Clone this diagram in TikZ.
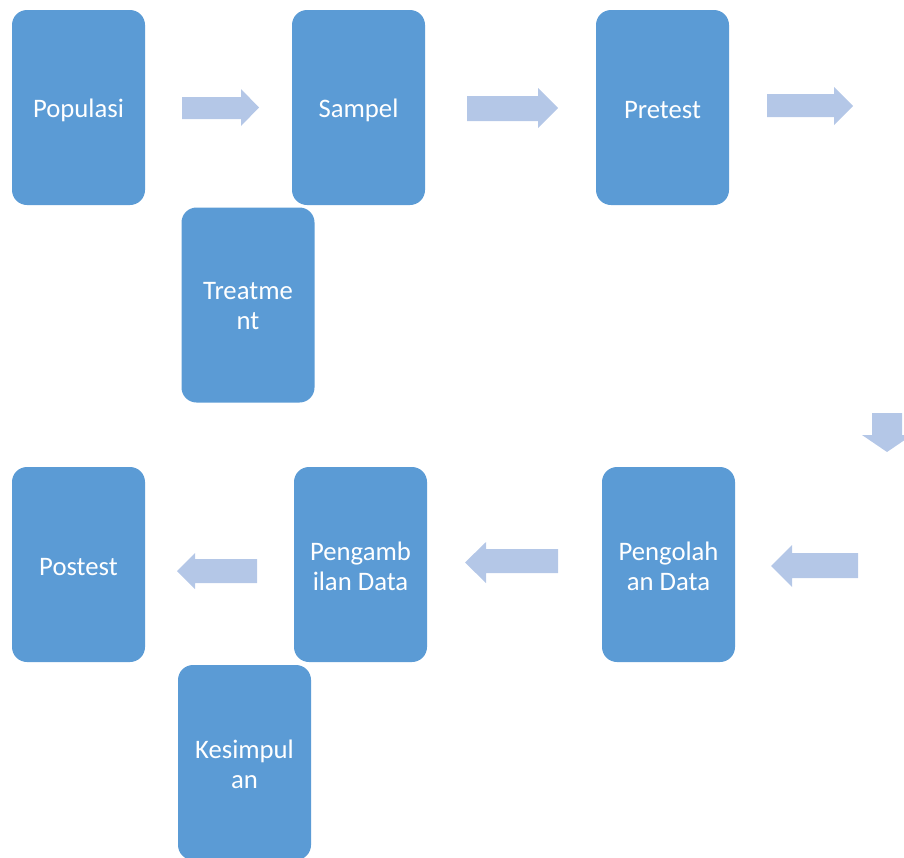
\documentclass[tikz,border=0pt]{standalone}
\usepackage{fontspec}
\setmainfont{Carlito}
\definecolor{boxblue}{HTML}{5B9BD5}
\definecolor{arrowblue}{HTML}{B4C7E7}
\begin{document}
\begin{tikzpicture}[x=1pt,y=-1pt,
  boxtext/.style={text=white,align=center,inner sep=0pt,font=\fontsize{26.7}{30}\selectfont,label distance=0pt},
  stepbox/.style 2 args={fill=boxblue,draw=none,rounded corners=15pt,minimum width=133pt,minimum height=195pt,
    inner sep=0pt,label={[boxtext,yshift=-#1]center:#2}},
  blockarrow/.style={fill=arrowblue,draw=none}]
\useasboundingbox (0,0) rectangle (904,857);
\clip (0,0) rectangle (904,857);
\node[stepbox={3pt}{Populasi}] (pop) at (78.5,107.5) {};
\node[stepbox={3pt}{Sampel}] (sam) at (358.5,107.5) {};
\node[stepbox={3pt}{Pretest}] (pre) at (662.5,107.5) {};
\node[stepbox={1.5pt}{Treatme\\nt}] (tre) at (248,305) {};
\node[stepbox={3pt}{Postest}] (pos) at (78.5,564.5) {};
\node[stepbox={1.5pt}{Pengamb\\ilan Data}] (pen) at (360.5,564.5) {};
\node[stepbox={1.5pt}{Pengolah\\an Data}] (olh) at (668.5,564.5) {};
\node[stepbox={1.5pt}{Kesimpul\\an}] (kes) at (244.5,762.5) {};
% right arrows (top row)
\fill[blockarrow] (182,97) -- (241,97) -- (241,89) -- (259,107.5) -- (241,126) -- (241,119) -- (182,119) -- cycle;
\fill[blockarrow] (467,96) -- (538,96) -- (538,88) -- (558,108) -- (538,128) -- (538,121) -- (467,121) -- cycle;
\fill[blockarrow] (767,94) -- (834,94) -- (834,87) -- (853,106) -- (834,125) -- (834,117) -- (767,117) -- cycle;
% down arrow
\fill[blockarrow] (872,413) -- (902,413) -- (902,435) -- (912,435) -- (887,452) -- (862,435) -- (872,435) -- cycle;
% left arrows (bottom row)
\fill[blockarrow] (257,559) -- (195,559) -- (195,553) -- (177,571) -- (195,589) -- (195,583) -- (257,583) -- cycle;
\fill[blockarrow] (558,549) -- (486,549) -- (486,542) -- (465,562.5) -- (486,583) -- (486,573) -- (558,573) -- cycle;
\fill[blockarrow] (858,553) -- (792,553) -- (792,545) -- (771,566) -- (792,587) -- (792,578) -- (858,578) -- cycle;
\end{tikzpicture}
\end{document}
